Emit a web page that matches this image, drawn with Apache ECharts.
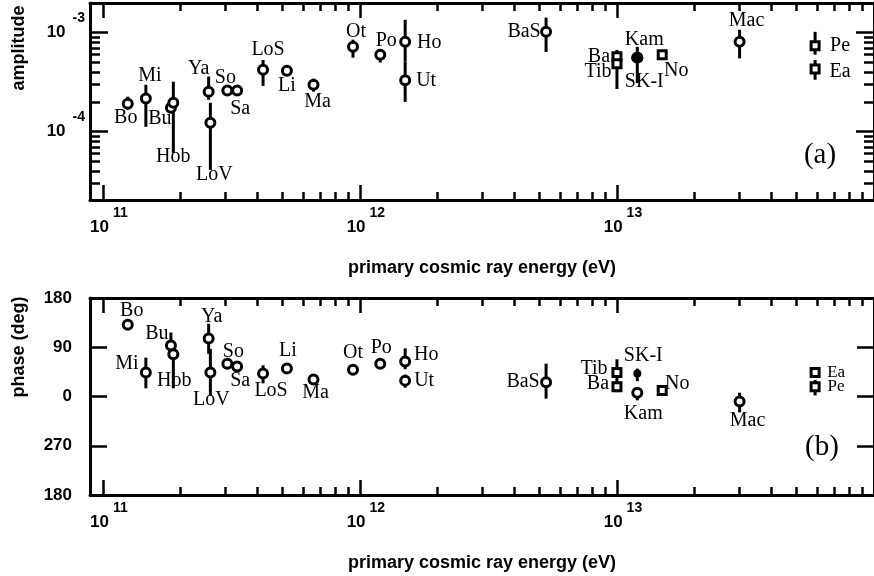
<!DOCTYPE html>
<html><head><meta charset="utf-8">
<script src="https://cdn.jsdelivr.net/npm/echarts@6/dist/echarts.min.js"></script>
<style>html,body{margin:0;padding:0;background:#fff}#c{width:874px;height:576px}</style>
</head><body><div id="c"></div>
<script>
// ---- data ----
const names = ['Bo','Mi','Bu','Hob','Ya','LoV','So','Sa','LoS','Li','Ma','Ot','Po','Ho','Ut','BaS','Ba','Tib','SK-I','Kam','No','Mac','Pe','Ea'];
const energy = [1.25e11,1.47e11,1.84e11,1.88e11,2.58e11,2.62e11,3.05e11,3.33e11,4.2e11,5.2e11,6.6e11,9.4e11,1.2e12,1.5e12,1.5e12,5.3e12,1.0e13,1.0e13,1.2e13,1.2e13,1.5e13,3.0e13,5.9e13,5.9e13];
const amplitude = [1.92e-4,2.16e-4,1.75e-4,1.96e-4,2.53e-4,1.23e-4,2.6e-4,2.6e-4,4.23e-4,4.13e-4,2.98e-4,7.2e-4,6.0e-4,8.1e-4,3.3e-4,1.02e-3,5.7e-4,4.86e-4,5.6e-4,5.6e-4,6.0e-4,8.1e-4,7.4e-4,4.3e-4];
const ampLow  = [1.67e-4,1.12e-4,1.6e-4,6.1e-5,2.1e-4,4.1e-5,2.45e-4,2.45e-4,2.9e-4,3.8e-4,2.54e-4,5.6e-4,5.0e-4,5.1e-4,2.0e-4,6.4e-4,5.3e-4,2.7e-4,3.1e-4,null,null,5.5e-4,6.0e-4,3.35e-4];
const ampHigh = [2.26e-4,2.98e-4,1.9e-4,3.2e-4,3.6e-4,1.96e-4,2.8e-4,2.8e-4,5.3e-4,4.5e-4,3.43e-4,8.5e-4,6.7e-4,1.35e-3,5.1e-4,1.42e-3,6.7e-4,5.6e-4,7.2e-4,null,null,1.07e-3,1.02e-3,5.3e-4];
const phase     = [131,44,93,77,106,44,60,55,42,51,31,49,60,64,29,26,18,44,42,7,11,351,18,44];
const phaseLow  = [null,15,75,15,78,2,null,null,24,null,null,null,null,50,16,356,8,30,28,353,null,331,2,35];
const phaseHigh = [null,71,117,95,133,87,null,null,57,null,null,null,null,88,40,60,30,68,51,15,null,7,30,53];
const squareNames = ['Ba','Tib','No','Pe','Ea'];
const filledNames = ['SK-I'];
const xTickExponents = [11,12,13,14];
const xLabelExponents = [11,12,13];
const ampTickExponents = [-4,-3];
const phaseTickLabels = {'-180':'180','-90':'270','0':'0','90':'90','180':'180'};

// ---- label placement (style, not data) ----
const offA = {Bo:[-2,14],Mi:[4,-23],Bu:[-11,11],Hob:[0,54],Ya:[-10,-23],LoV:[4,52],So:[-2,-13],Sa:[3,18],LoS:[5,-20],Li:[0,15],Ma:[4,17],Ot:[3,-15],Po:[6,-14],Ho:[24,1],Ut:[21,0],BaS:[-22,0],Ba:[-18,0],Tib:[-19,8],Kam:[7,-18],'SK-I':[7,24],No:[14,16],Mac:[7,-21],Pe:[25,0],Ea:[25,3]};
const offB = {Bo:[4,-14],Mi:[-19,-9],Bu:[-14,-12],Hob:[1,26],Ya:[3,-22],LoV:[1,27],So:[6,-12],Sa:[3,14],LoS:[8,17],Li:[1,-18],Ma:[2,13],Ot:[0,-17],Po:[1,-16],Ho:[21,-7],Ut:[19,0],BaS:[-23,-1],Tib:[-23,-4],Ba:[-19,-3],'SK-I':[6,-18],Kam:[6,21],No:[15,-7],Mac:[8,19],Ea:[21,0],Pe:[21,0]};
const smallB = {Ea:17,Pe:17};

const X_MIN = 10.95, X_MAX = 14.0;
const Y_MIN = -4.69, Y_MAX = -2.70;
const lg = Math.log10;
const toAxis = v => (v > 180 ? v - 360 : v);

const minorX = [];
for (let n = 10; n <= 13; n++) for (let k = 2; k <= 9; k++) { const v = n + lg(k); if (v > X_MIN + 0.01 && v < X_MAX - 0.005) minorX.push(v); }
const minorY = [];
for (let n = -5; n <= -3; n++) for (let k = 2; k <= 9; k++) { const v = n + lg(k); if (v > Y_MIN + 0.005 && v < Y_MAX - 0.005) minorY.push(v); }

const BLACK = '#000';
const SANS = '"Liberation Sans", Arial, sans-serif';
const SERIF = '"Liberation Serif", "Times New Roman", serif';

function xAxesFor(gridIndex) {
  const base = {type:'value', gridIndex, min:X_MIN, max:X_MAX, splitLine:{show:false}};
  return [
    Object.assign({}, base, {position:'bottom',
      axisLine:{show:true, onZero:false, lineStyle:{color:BLACK, width:3}},
      axisTick:{show:true, inside:true, length:15, lineStyle:{color:BLACK, width:2.5}, customValues:xTickExponents},
      axisLabel:{show:true, customValues:xLabelExponents, margin:6, padding:[0,0,0,12],
        formatter: v => '{b|10}{s|' + Math.round(v) + '}',
        rich:{b:{fontSize:17, fontWeight:'bold', fontFamily:SANS, color:BLACK},
              s:{fontSize:14, fontWeight:'bold', fontFamily:SANS, color:BLACK, padding:[0,0,28,4]}}},
      name:'primary cosmic ray energy (eV)', nameLocation:'middle', nameGap:59,
      nameTextStyle:{fontSize:18, fontWeight:'bold', fontFamily:SANS, color:BLACK}}),
    Object.assign({}, base, {position:'bottom', axisLine:{show:false, onZero:false},
      axisTick:{show:true, inside:true, length:8, lineStyle:{color:BLACK, width:2.5}, customValues:minorX},
      axisLabel:{show:false}}),
    Object.assign({}, base, {position:'top',
      axisLine:{show:true, onZero:false, lineStyle:{color:BLACK, width:3}},
      axisTick:{show:true, inside:true, length:15, lineStyle:{color:BLACK, width:2.5}, customValues:xTickExponents},
      axisLabel:{show:false}}),
    Object.assign({}, base, {position:'top', axisLine:{show:false, onZero:false},
      axisTick:{show:true, inside:true, length:8, lineStyle:{color:BLACK, width:2.5}, customValues:minorX},
      axisLabel:{show:false}})
  ];
}

const ampBase = {type:'value', gridIndex:0, min:Y_MIN, max:Y_MAX, splitLine:{show:false}};
const yAxes = [
  Object.assign({}, ampBase, {position:'left',
    axisLine:{show:true, onZero:false, lineStyle:{color:BLACK, width:3}},
    axisTick:{show:true, inside:true, length:18, lineStyle:{color:BLACK, width:2.5}, customValues:ampTickExponents},
    axisLabel:{show:true, customValues:ampTickExponents, margin:5,
      formatter: v => '{b|10}{s|' + Math.round(v) + '}',
      rich:{b:{fontSize:17, fontWeight:'bold', fontFamily:SANS, color:BLACK},
            s:{fontSize:14, fontWeight:'bold', fontFamily:SANS, color:BLACK, padding:[0,0,30,7]}}}}),
  Object.assign({}, ampBase, {position:'left', axisLine:{show:false, onZero:false},
    axisTick:{show:true, inside:true, length:10, lineStyle:{color:BLACK, width:2.5}, customValues:minorY},
    axisLabel:{show:false}}),
  Object.assign({}, ampBase, {position:'right',
    axisLine:{show:true, onZero:false, lineStyle:{color:BLACK, width:3}},
    axisTick:{show:true, inside:true, length:18, lineStyle:{color:BLACK, width:2.5}, customValues:ampTickExponents},
    axisLabel:{show:false}}),
  Object.assign({}, ampBase, {position:'right', axisLine:{show:false, onZero:false},
    axisTick:{show:true, inside:true, length:10, lineStyle:{color:BLACK, width:2.5}, customValues:minorY},
    axisLabel:{show:false}}),
  {type:'value', gridIndex:1, min:-180, max:180, interval:90, position:'left', splitLine:{show:false},
    axisLine:{show:true, onZero:false, lineStyle:{color:BLACK, width:3}},
    axisTick:{show:true, inside:true, length:17, lineStyle:{color:BLACK, width:2.5}},
    axisLabel:{show:true, margin:18, fontSize:17, fontWeight:'bold', fontFamily:SANS, color:BLACK,
      formatter: v => phaseTickLabels[String(Math.round(v))]}},
  {type:'value', gridIndex:1, min:-180, max:180, interval:90, position:'right', splitLine:{show:false},
    axisLine:{show:true, onZero:false, lineStyle:{color:BLACK, width:3}},
    axisTick:{show:true, inside:true, length:17, lineStyle:{color:BLACK, width:2.5}},
    axisLabel:{show:false}}
];

function errSeries(xIdx, yIdx, data) {
  return {type:'custom', xAxisIndex:xIdx, yAxisIndex:yIdx, z:2, silent:true, data,
    renderItem:(params, api) => {
      const p1 = api.coord([api.value(0), api.value(1)]);
      const p2 = api.coord([api.value(0), api.value(2)]);
      return {type:'line', shape:{x1:p1[0], y1:p1[1], x2:p2[0], y2:p2[1]}, style:{stroke:BLACK, lineWidth:3}};
    }};
}

function pointItems(which, panel) {
  const out = [];
  names.forEach((nm, i) => {
    const isSq = squareNames.includes(nm), isFill = filledNames.includes(nm);
    const kind = isFill ? 'fill' : (isSq ? 'sq' : 'circ');
    if (kind !== which) return;
    const y = panel === 'a' ? lg(amplitude[i]) : toAxis(phase[i]);
    const off = panel === 'a' ? offA[nm] : offB[nm];
    const fs = panel === 'b' && smallB[nm] ? smallB[nm] : 20;
    out.push({name:nm, value:[lg(energy[i]), y], label:{offset:off, fontSize:fs}});
  });
  return out;
}

const labelCfg = {show:true, position:'inside', formatter:'{b}', color:BLACK, fontFamily:SERIF, fontSize:20};

function markerSeries(xIdx, yIdx, panel) {
  return [
    {type:'scatter', xAxisIndex:xIdx, yAxisIndex:yIdx, z:3, symbol:'circle', symbolSize:9,
      itemStyle:{color:'#fff', borderColor:BLACK, borderWidth:3, opacity:1}, label:labelCfg,
      data:pointItems('circ', panel)},
    {type:'scatter', xAxisIndex:xIdx, yAxisIndex:yIdx, z:4, symbol:'rect', symbolSize:8,
      itemStyle:{color:'#fff', borderColor:BLACK, borderWidth:3, opacity:1}, label:labelCfg,
      data:pointItems('sq', panel)},
    {type:'scatter', xAxisIndex:xIdx, yAxisIndex:yIdx, z:5, symbol:'circle', symbolSize: panel === 'a' ? 12 : 8,
      itemStyle:{color:BLACK, borderColor:BLACK, borderWidth:0, opacity:1}, label:labelCfg,
      data:pointItems('fill', panel)}
  ];
}

const errA = [], errB = [];
names.forEach((nm, i) => {
  if (ampLow[i] != null) errA.push([lg(energy[i]), lg(ampLow[i]), lg(ampHigh[i])]);
  if (phaseLow[i] != null) errB.push([lg(energy[i]), toAxis(phaseLow[i]), toAxis(phaseHigh[i])]);
});

const option = {
  animation:false,
  backgroundColor:'#fff',
  grid:[{left:90, top:3, width:787, height:197}, {left:90, top:298, width:787, height:197}],
  xAxis: xAxesFor(0).concat(xAxesFor(1)),
  yAxis: yAxes,
  series: [errSeries(0, 0, errA)].concat(markerSeries(0, 0, 'a'), [errSeries(4, 4, errB)], markerSeries(4, 4, 'b')),
  graphic:[
    {type:'text', x:19, y:48, rotation:Math.PI/2, style:{text:'amplitude', font:'bold 18px ' + SANS, fill:BLACK, align:'center', verticalAlign:'middle'}},
    {type:'text', x:19, y:347, rotation:Math.PI/2, style:{text:'phase (deg)', font:'bold 18px ' + SANS, fill:BLACK, align:'center', verticalAlign:'middle'}},
    {type:'text', x:820, y:155, style:{text:'(a)', font:'29px ' + SERIF, fill:BLACK, align:'center', verticalAlign:'middle'}},
    {type:'text', x:822, y:447, style:{text:'(b)', font:'29px ' + SERIF, fill:BLACK, align:'center', verticalAlign:'middle'}}
  ]
};

const chart = echarts.init(document.getElementById('c'), null, {renderer:'canvas'});
chart.setOption(option);
</script>
</body></html>
